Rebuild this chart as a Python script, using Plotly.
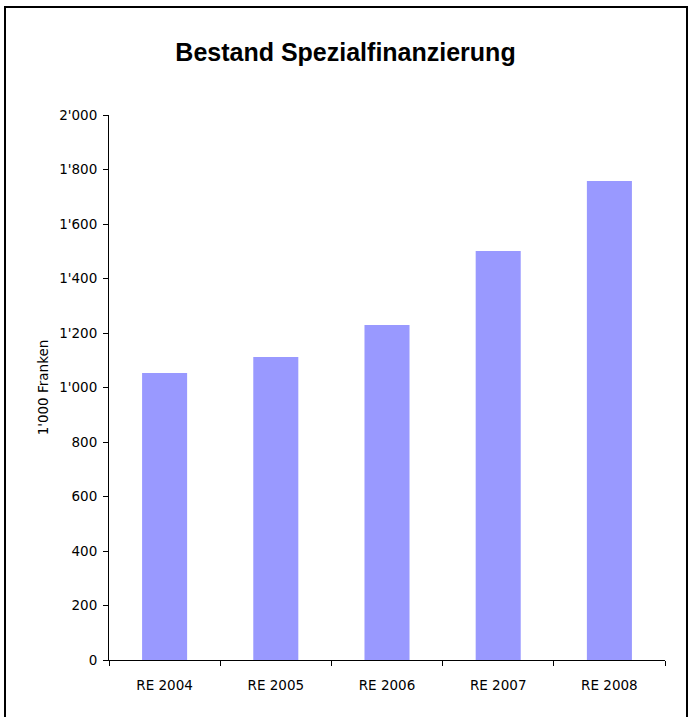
import plotly.graph_objects as go

years = ["RE 2004", "RE 2005", "RE 2006", "RE 2007", "RE 2008"]
bestand = [1053, 1112, 1229, 1501, 1758]
y_ticks = [0, 200, 400, 600, 800, 1000, 1200, 1400, 1600, 1800, 2000]

W, H = 691, 717
L, R, T, B = 109, 26, 115, 57
PW, PH = W - L - R, H - T - B


def px_x(x):
    return (x - L) / PW


def px_y(y):
    return (H - B - y) / PH


fig = go.Figure(
    go.Bar(
        x=years,
        y=bestand,
        marker_color="#9999FF",
        marker_line_width=0,
    )
)

fig.update_layout(
    width=W,
    height=H,
    margin=dict(l=L, r=R, t=T, b=B),
    paper_bgcolor="white",
    plot_bgcolor="white",
    separators=".'",
    bargap=0.595,
    showlegend=False,
    font=dict(family="DejaVu Sans, Verdana, sans-serif", size=13.5, color="black"),
    title=dict(
        text="<b>Bestand Spezialfinanzierung</b>",
        x=0.5,
        xanchor="center",
        y=1 - 52 / H,
        yanchor="middle",
        font=dict(family="Liberation Sans, Arial, sans-serif", size=25),
    ),
)

fig.update_yaxes(
    range=[0, 2000],
    tickvals=y_ticks,
    tickformat=",d",
    ticks="outside",
    ticklen=5,
    tickcolor="black",
    ticklabelstandoff=3,
    showline=True,
    linecolor="black",
    linewidth=1,
    showgrid=False,
    zeroline=False,
    title=dict(text="1'000 Franken", font=dict(size=13.5), standoff=7),
)
fig.update_xaxes(
    tickson="boundaries",
    ticks="outside",
    ticklen=5,
    tickcolor="black",
    ticklabelstandoff=13,
    showline=True,
    linecolor="black",
    linewidth=1,
    showgrid=False,
)

# frame around the whole chart
fig.add_shape(
    type="rect",
    xref="paper",
    yref="paper",
    x0=px_x(5),
    x1=px_x(687),
    y0=px_y(722),
    y1=px_y(7),
    line=dict(color="black", width=2),
    fillcolor="rgba(0,0,0,0)",
    layer="below",
)

fig.write_html(
    "out.html",
    config={"displayModeBar": False},
    post_script="document.body.style.margin='0';",
)
